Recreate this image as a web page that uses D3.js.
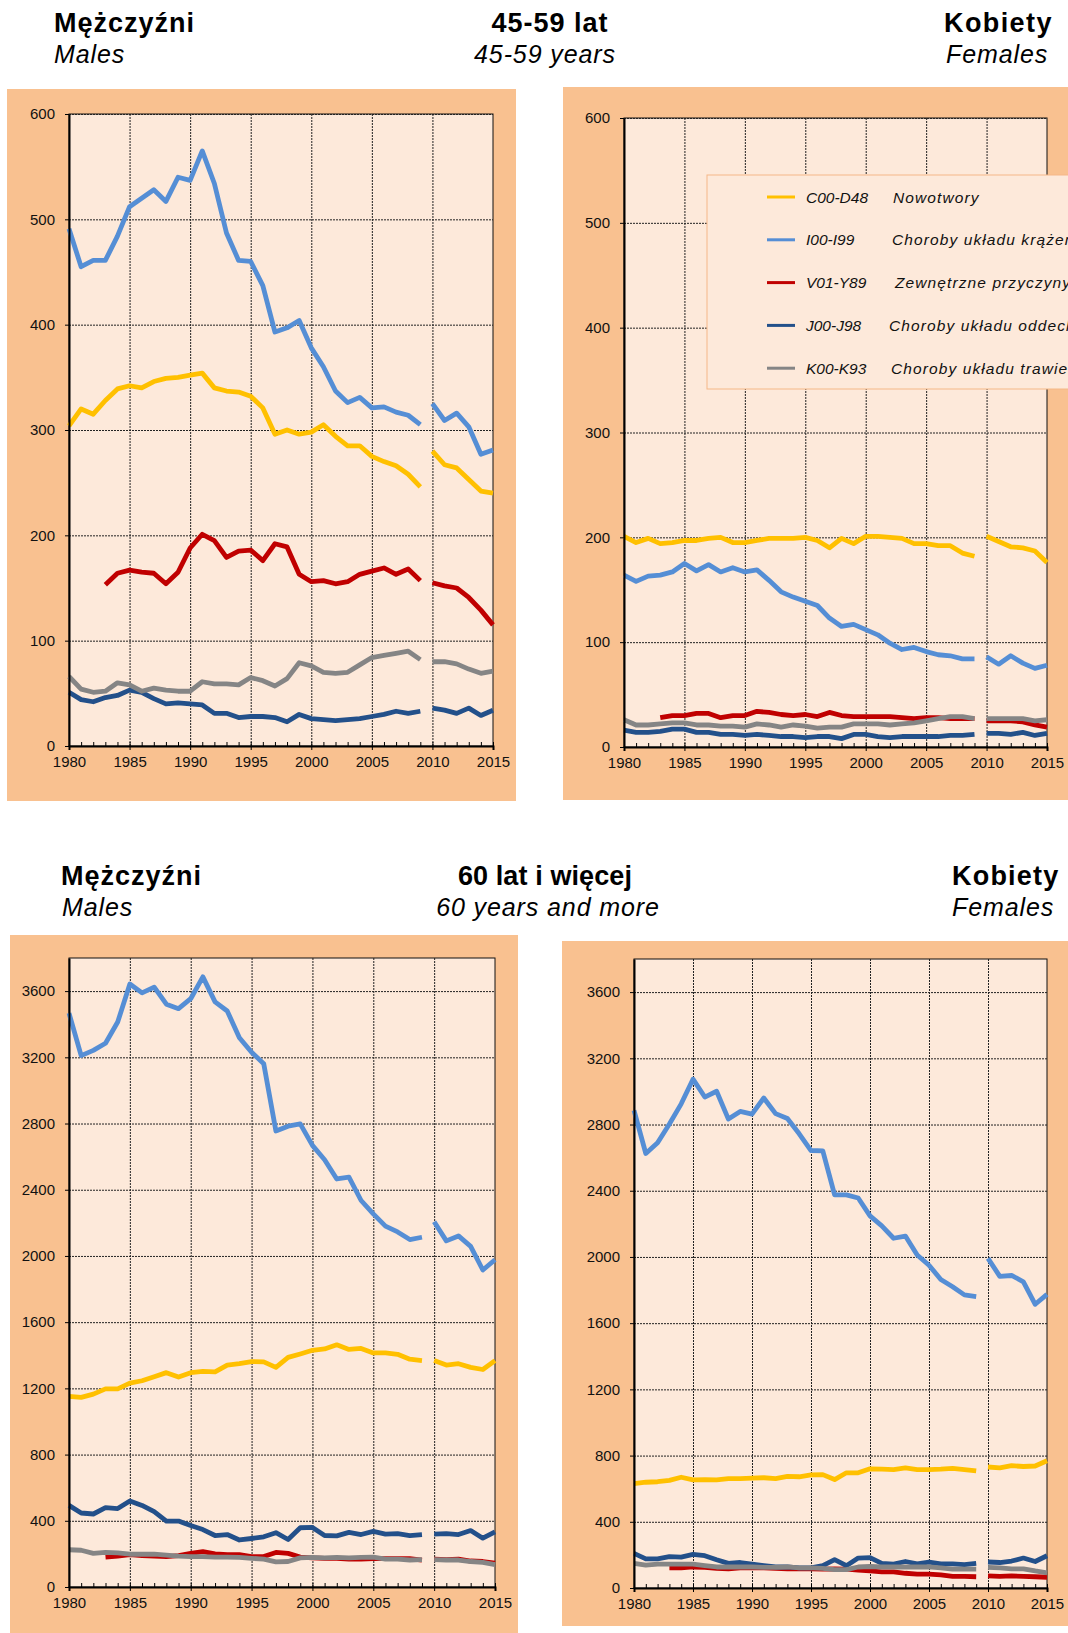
<!DOCTYPE html>
<html>
<head>
<meta charset="utf-8">
<script src="https://cdn.jsdelivr.net/npm/d3@7"></script>
<style>
  body { margin: 0; background: #fff; }
  svg text { font-family: "Liberation Sans", Arial, sans-serif; }
</style>
</head>
<body>
<div id="chart"></div>
<script>
const years = [1980, 1981, 1982, 1983, 1984, 1985, 1986, 1987, 1988, 1989,
  1990, 1991, 1992, 1993, 1994, 1995, 1996, 1997, 1998, 1999,
  2000, 2001, 2002, 2003, 2004, 2005, 2006, 2007, 2008, 2009,
  2010, 2011, 2012, 2013, 2014, 2015];
const yearLabels = [1980, 1985, 1990, 1995, 2000, 2005, 2010, 2015];
const ticks45 = [0, 100, 200, 300, 400, 500, 600];
const ticks60 = [0, 400, 800, 1200, 1600, 2000, 2400, 2800, 3200, 3600];

const codes = ['C00-D48', 'I00-I99', 'V01-Y89', 'J00-J98', 'K00-K93'];
const causes = ['Nowotwory', 'Choroby układu krążenia', 'Zewnętrzne przyczyny zgonów',
  'Choroby układu oddechowego', 'Choroby układu trawiennego'];

// Mężczyźni 45-59
const m45_C00 = [304, 320, 315, 328, 339, 342, 340, 346, 349, 350, 352, 354, 340, 337, 336, 332, 321, 296, 300, 296,
  298, 305, 294, 285, 285, 275, 270, 266, 258, 246, 280, 267, 264, 253, 242, 240];
const m45_I00 = [491, 455, 461, 461, 484, 512, 520, 528, 517, 540, 537, 565, 534, 487, 461, 460, 437, 393, 397, 404,
  378, 360, 337, 326, 331, 321, 322, 317, 314, 305, 325, 309, 316, 303, 277, 281];
const m45_V01 = [null, null, null, 153, 164, 167, 165, 164, 154, 165, 188, 201, 195, 179, 185, 186, 176, 192, 189, 163,
  156, 157, 154, 156, 163, 166, 169, 163, 168, 157, 155, 152, 150, 141, 129, 115];
const m45_J00 = [51, 44, 42, 46, 48, 53, 51, 45, 40, 41, 40, 39, 31, 31, 27, 28, 28, 27, 23, 30,
  26, 25, 24, 25, 26, 28, 30, 33, 31, 33, 36, 34, 31, 36, 29, 34];
const m45_K00 = [66, 54, 51, 52, 60, 58, 52, 55, 53, 52, 52, 61, 59, 59, 58, 65, 62, 57, 64, 79,
  76, 70, 69, 70, 77, 84, 86, 88, 90, 82, 80, 80, 78, 73, 69, 71];

// Kobiety 45-59
const f45_C00 = [201, 195, 199, 194, 195, 197, 197, 199, 200, 195, 195, 197, 199, 199, 199, 200, 197, 190, 199, 194,
  201, 201, 200, 199, 194, 194, 192, 192, 185, 182, 201, 196, 191, 190, 187, 176];
const f45_I00 = [164, 158, 163, 164, 167, 175, 168, 174, 167, 171, 167, 169, 159, 148, 143, 139, 135, 123, 115, 117,
  112, 107, 99, 93, 95, 91, 88, 87, 84, 84, 86, 79, 87, 80, 75, 78];
const f45_V01 = [null, null, null, 28, 30, 30, 32, 32, 28, 30, 30, 34, 33, 31, 30, 31, 29, 33, 30, 29,
  29, 29, 29, 28, 27, 28, 28, 27, 27, 27, 25, 25, 25, 24, 21, 19];
const f45_J00 = [16, 14, 14, 15, 17, 17, 14, 14, 12, 12, 11, 12, 11, 10, 10, 9, 10, 10, 8, 12,
  12, 10, 9, 10, 10, 10, 10, 11, 11, 12, 13, 13, 12, 14, 11, 13];
const f45_K00 = [26, 21, 21, 22, 23, 23, 21, 21, 20, 20, 19, 22, 21, 19, 21, 20, 18, 19, 19, 22,
  22, 22, 21, 22, 23, 25, 27, 29, 29, 27, 27, 27, 27, 27, 25, 26];

// Mężczyźni 60 lat i więcej
const m60_C00 = [1151, 1146, 1165, 1197, 1197, 1232, 1246, 1270, 1295, 1268, 1295, 1303, 1300, 1341, 1349, 1362, 1360, 1327, 1387, 1408,
  1430, 1438, 1463, 1435, 1441, 1414, 1414, 1406, 1376, 1368, 1368, 1341, 1349, 1327, 1314, 1368];
const m60_I00 = [3467, 3210, 3242, 3285, 3413, 3643, 3589, 3624, 3521, 3494, 3554, 3686, 3535, 3480, 3318, 3231, 3161, 2755, 2784, 2798,
  2668, 2581, 2465, 2476, 2335, 2254, 2180, 2145, 2099, 2113, 2207, 2091, 2121, 2058, 1915, 1977];
const m60_V01 = [null, null, null, 181, 187, 195, 190, 187, 184, 190, 203, 214, 200, 195, 195, 184, 184, 209, 203, 181,
  176, 173, 173, 168, 168, 171, 171, 171, 171, 163, 168, 165, 168, 157, 154, 144];
const m60_J00 = [493, 447, 441, 479, 474, 520, 493, 455, 398, 398, 371, 347, 311, 317, 284, 293, 303, 328, 287, 358,
  360, 311, 309, 330, 317, 336, 320, 322, 311, 317, 320, 322, 317, 341, 295, 333];
const m60_K00 = [225, 222, 203, 209, 206, 198, 198, 198, 192, 187, 184, 184, 181, 181, 179, 173, 168, 152, 154, 176,
  179, 176, 179, 176, 179, 181, 168, 168, 163, 165, 165, 163, 163, 154, 149, 135];

// Kobiety 60 lat i więcej
const f60_C00 = [631, 639, 642, 650, 669, 653, 655, 653, 661, 661, 664, 666, 661, 674, 672, 683, 685, 655, 696, 696,
  720, 718, 715, 726, 715, 715, 718, 723, 715, 707, 731, 726, 739, 734, 737, 769];
const f60_I00 = [2885, 2625, 2690, 2803, 2925, 3074, 2966, 3001, 2833, 2879, 2863, 2960, 2866, 2836, 2744, 2643, 2641, 2375, 2375, 2356,
  2248, 2188, 2113, 2126, 2012, 1950, 1864, 1820, 1771, 1761, 1991, 1883, 1888, 1850, 1714, 1774];
const f60_V01 = [null, null, null, 122, 122, 127, 125, 119, 116, 122, 122, 122, 119, 116, 116, 116, 114, 116, 114, 108,
  103, 97, 97, 89, 84, 84, 79, 70, 70, 68, 73, 70, 73, 70, 68, 65];
const f60_J00 = [209, 176, 176, 190, 187, 203, 195, 171, 149, 154, 144, 135, 127, 127, 122, 122, 135, 171, 135, 181,
  184, 149, 144, 160, 146, 157, 146, 146, 141, 149, 157, 154, 163, 181, 160, 195];
const f60_K00 = [149, 138, 144, 144, 144, 144, 135, 127, 127, 127, 127, 125, 125, 127, 122, 122, 119, 111, 111, 127,
  130, 127, 127, 127, 127, 127, 122, 114, 114, 114, 125, 122, 116, 116, 103, 92];

const colors = ['#FFC000', '#558ED5', '#C00000', '#23508A', '#858585'];
const segments = [[1980, 2009], [2010, 2015]];

const W = 1068, H = 1633;
const svg = d3.select('#chart').append('svg')
  .attr('width', W)
  .attr('height', H)
  .style('display', 'block');

const panels = [
  { series: [m45_C00, m45_I00, m45_V01, m45_J00, m45_K00], yMax: 600, ticks: ticks45,
    bg: [7, 89, 509, 712], left: 69, right: 493, top: 114, bottom: 746, legend: false },
  { series: [f45_C00, f45_I00, f45_V01, f45_J00, f45_K00], yMax: 600, ticks: ticks45,
    bg: [563, 87, 520, 713], left: 624, right: 1047, top: 118, bottom: 747, legend: true },
  { series: [m60_C00, m60_I00, m60_V01, m60_J00, m60_K00], yMax: 3800, ticks: ticks60,
    bg: [10, 935, 508, 698], left: 69, right: 495, top: 958, bottom: 1587, legend: false },
  { series: [f60_C00, f60_I00, f60_V01, f60_J00, f60_K00], yMax: 3800, ticks: ticks60,
    bg: [562, 941, 520, 685], left: 634, right: 1047, top: 959, bottom: 1588, legend: false }
];

panels.forEach(p => {
  const g = svg.append('g');

  g.append('rect')
    .attr('x', p.bg[0]).attr('y', p.bg[1])
    .attr('width', p.bg[2]).attr('height', p.bg[3])
    .attr('fill', '#F9C190');

  const x = d3.scaleLinear().domain([1980, 2015]).range([p.left, p.right]);
  const y = d3.scaleLinear().domain([0, p.yMax]).range([p.bottom, p.top]);

  g.append('rect')
    .attr('x', p.left).attr('y', p.top)
    .attr('width', p.right - p.left).attr('height', p.bottom - p.top)
    .attr('fill', '#FDE9DA')
    .attr('stroke', '#111')
    .attr('stroke-width', 1);

  // dotted grid
  g.append('g')
    .attr('transform', `translate(${p.left},0)`)
    .call(d3.axisLeft(y).tickValues(p.ticks.filter(t => t > 0)).tickSize(-(p.right - p.left)).tickFormat(''))
    .call(a => a.select('.domain').remove())
    .selectAll('line')
    .attr('stroke', '#222')
    .attr('stroke-width', 1)
    .attr('stroke-dasharray', '2,1');

  g.append('g')
    .attr('transform', `translate(0,${p.bottom})`)
    .call(d3.axisBottom(x).tickValues(yearLabels.slice(1, -1)).tickSize(-(p.bottom - p.top)).tickFormat(''))
    .call(a => a.select('.domain').remove())
    .selectAll('line')
    .attr('stroke', '#222')
    .attr('stroke-width', 1)
    .attr('stroke-dasharray', '2,1');

  // lines
  const line = d3.line()
    .defined(d => d.v != null)
    .x(d => x(d.yr))
    .y(d => y(d.v));

  p.series.forEach((vals, si) => {
    segments.forEach(([a, b]) => {
      const pts = years.map((yr, i) => ({ yr, v: vals[i] })).filter(d => d.yr >= a && d.yr <= b);
      g.append('path')
        .datum(pts)
        .attr('d', line)
        .attr('fill', 'none')
        .attr('stroke', colors[si])
        .attr('stroke-width', 4.8)
        .attr('stroke-linejoin', 'round');
    });
  });

  // axes
  g.append('g')
    .attr('transform', `translate(0,${p.bottom})`)
    .call(d3.axisBottom(x).tickValues(years).tickSize(-4).tickFormat(''))
    .call(a => a.select('.domain').remove())
    .selectAll('line').attr('stroke', '#000');

  const xAxis = g.append('g')
    .attr('transform', `translate(0,${p.bottom})`)
    .call(d3.axisBottom(x).tickValues(yearLabels).tickSize(4).tickPadding(6).tickFormat(d3.format('d')));
  xAxis.select('.domain').attr('stroke', '#000').attr('stroke-width', 2);
  xAxis.selectAll('text').attr('font-size', 15).attr('fill', '#111');

  const yAxis = g.append('g')
    .attr('transform', `translate(${p.left},0)`)
    .call(d3.axisLeft(y).tickValues(p.ticks).tickSize(4).tickPadding(10).tickSizeOuter(0).tickFormat(d3.format('d')));
  yAxis.select('.domain').attr('stroke', '#000').attr('stroke-width', 2);
  yAxis.selectAll('text').attr('font-size', 15).attr('fill', '#111');

  if (p.legend) {
    const lg = g.append('g');
    lg.append('rect')
      .attr('x', 707).attr('y', 175)
      .attr('width', 420).attr('height', 214)
      .attr('fill', '#FDE9DA')
      .attr('stroke', '#F5B887')
      .attr('stroke-width', 1);
    const descX = [893, 892, 895, 889, 891];
    codes.forEach((c, i) => {
      const cy = 197 + i * 42.8;
      lg.append('line')
        .attr('x1', 767).attr('x2', 795)
        .attr('y1', cy).attr('y2', cy)
        .attr('stroke', colors[i]).attr('stroke-width', 3);
      lg.append('text')
        .attr('x', 806).attr('y', cy + 5.5)
        .attr('font-family', '"DejaVu Sans", Verdana, sans-serif')
        .attr('font-style', 'italic')
        .attr('font-size', 15.5)
        .attr('fill', '#111')
        .text(c);
      lg.append('text')
        .attr('x', descX[i]).attr('y', cy + 5.5)
        .attr('font-family', '"DejaVu Sans", Verdana, sans-serif')
        .attr('font-style', 'italic')
        .attr('font-size', 15.5)
        .attr('letter-spacing', 1.1)
        .attr('fill', '#111')
        .text(causes[i]);
    });
  }
});

// headings
const headings = [
  { t: 'Mężczyźni', x: 54, y: 32, bold: true, anchor: 'start', ls: 1 },
  { t: 'Males', x: 54, y: 63, bold: false, anchor: 'start', ls: 0.9 },
  { t: '45-59 lat', x: 550, y: 32, bold: true, anchor: 'middle', ls: 1 },
  { t: '45-59 years', x: 545, y: 63, bold: false, anchor: 'middle', ls: 0.9 },
  { t: 'Kobiety', x: 944, y: 32, bold: true, anchor: 'start', ls: 1.4 },
  { t: 'Females', x: 946, y: 63, bold: false, anchor: 'start', ls: 0.9 },
  { t: 'Mężczyźni', x: 61, y: 885, bold: true, anchor: 'start', ls: 1 },
  { t: 'Males', x: 62, y: 916, bold: false, anchor: 'start', ls: 0.9 },
  { t: '60 lat i więcej', x: 545, y: 885, bold: true, anchor: 'middle', ls: 0.1 },
  { t: '60 years and more', x: 548, y: 916, bold: false, anchor: 'middle', ls: 0.9 },
  { t: 'Kobiety', x: 952, y: 885, bold: true, anchor: 'start', ls: 1.2 },
  { t: 'Females', x: 952, y: 916, bold: false, anchor: 'start', ls: 0.9 }
];

svg.selectAll('text.heading')
  .data(headings)
  .join('text')
  .attr('class', 'heading')
  .attr('x', d => d.x)
  .attr('y', d => d.y)
  .attr('text-anchor', d => d.anchor)
  .attr('font-size', d => d.bold ? 27 : 25)
  .attr('font-weight', d => d.bold ? 'bold' : 'normal')
  .attr('font-style', d => d.bold ? 'normal' : 'italic')
  .attr('letter-spacing', d => d.ls)
  .attr('fill', '#000')
  .text(d => d.t);
</script>
</body>
</html>
